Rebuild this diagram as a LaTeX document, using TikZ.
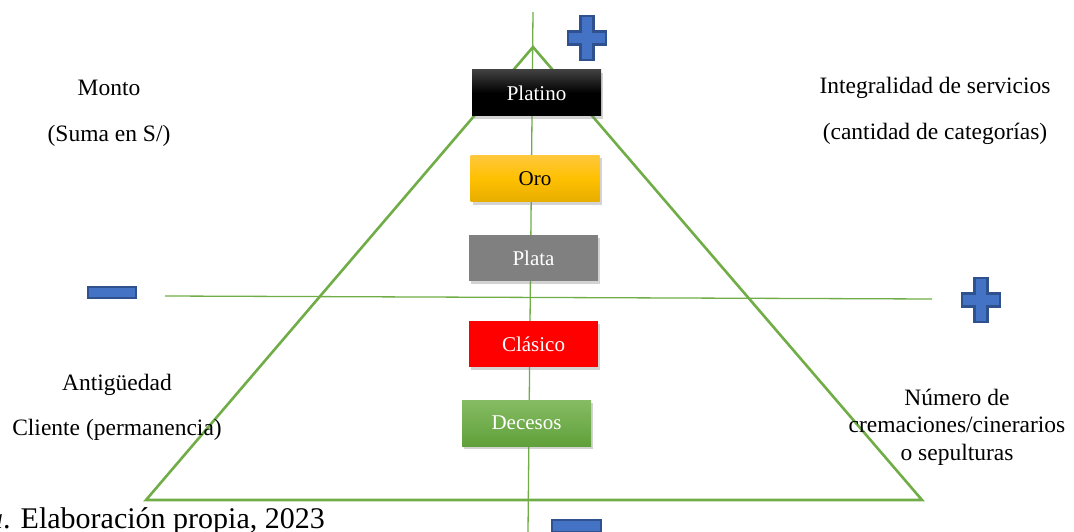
\documentclass[tikz,border=0pt]{standalone}
\usepackage{fontspec}
\setmainfont{Liberation Serif}
\usetikzlibrary{shadows}
\definecolor{lgreen}{HTML}{70AD47}
\definecolor{sblue}{HTML}{4472C4}
\definecolor{sbord}{HTML}{2F528F}
\begin{document}
\begin{tikzpicture}[x=1pt,y=-1pt,
  lvl/.style={minimum width=129pt,minimum height=46pt,inner sep=0pt,font=\fontsize{21}{24}\selectfont,drop shadow={shadow xshift=2pt,shadow yshift=-3pt,opacity=0.35}},
  lbl/.style={font=\fontsize{23.5}{27}\selectfont,inner sep=0pt,align=center},
  sign/.style={fill=sblue,draw=sbord,line width=2.5pt,line join=miter}]
\useasboundingbox (0,0) rectangle (1074,532);
\clip (0,0) rectangle (1074,532);
% axes
\coordinate (vt) at (533,12);
\coordinate (vb) at (528,532);
\coordinate (hl) at (165,296);
\coordinate (hr) at (932,299);
\draw[lgreen,line width=1.3pt] (vt) -- (vb);
\draw[lgreen,line width=1.3pt] (hl) -- (hr);
% triangle
\coordinate (apex) at (533,47);
\coordinate (bl) at (146,500);
\coordinate (br) at (922,500);
\draw[lgreen,line width=2.6pt,line join=miter] (apex) -- (bl) -- (br) -- cycle;
% levels
\node[lvl,top color=black!75,bottom color=black,middle color=black,text=white] (platino) at (536.5,93) {Platino};
\node[lvl,top color={rgb,255:red,255;green,200;blue,60},bottom color={rgb,255:red,232;green,174;blue,0},middle color={rgb,255:red,255;green,192;blue,0},text=black] (oro) at (535,178.5) {Oro};
\node[lvl,fill=black!50,text=white] (plata) at (533.5,258) {Plata};
\node[lvl,fill=red,text=white] (clasico) at (533.5,344) {Clásico};
\node[lvl,top color={rgb,255:red,134;green,188;blue,100},bottom color={rgb,255:red,96;green,160;blue,58},text=white] (decesos) at (526.5,423) {Decesos};
% signs
\draw[sign,shift={(587,38)}] (-6.5,-22) -- (6.5,-22) -- (6.5,-6.5) -- (19,-6.5) -- (19,6.5) -- (6.5,6.5) -- (6.5,22) -- (-6.5,22) -- (-6.5,6.5) -- (-19,6.5) -- (-19,-6.5) -- (-6.5,-6.5) -- cycle;
\draw[sign,shift={(981,300)}] (-6.5,-22) -- (6.5,-22) -- (6.5,-6.5) -- (19,-6.5) -- (19,6.5) -- (6.5,6.5) -- (6.5,22) -- (-6.5,22) -- (-6.5,6.5) -- (-19,6.5) -- (-19,-6.5) -- (-6.5,-6.5) -- cycle;
\draw[sign] (88,287) rectangle (136,298);
\draw[sign] (552,520) rectangle (601,532);
% labels
\node[lbl] (monto) at (109,88) {Monto};
\node[lbl] (suma) at (109,136) {(Suma en S/)};
\node[lbl] (integ) at (935,88) {Integralidad de servicios};
\node[lbl] (cant) at (935,134) {(cantidad de categorías)};
\node[lbl] (antig) at (117,385) {Antigüedad};
\node[lbl] (cliente) at (117,430) {Cliente (permanencia)};
\node[lbl,font=\fontsize{23.5}{27.5}\selectfont] (numero) at (957,427) {Número de\\cremaciones/cinerarios\\o sepulturas};
\node[anchor=base east,inner sep=0pt,font=\fontsize{30}{34}\selectfont] (nota) at (325,528) {\textit{Nota}. Elaboración propia, 2023};
\end{tikzpicture}
\end{document}
